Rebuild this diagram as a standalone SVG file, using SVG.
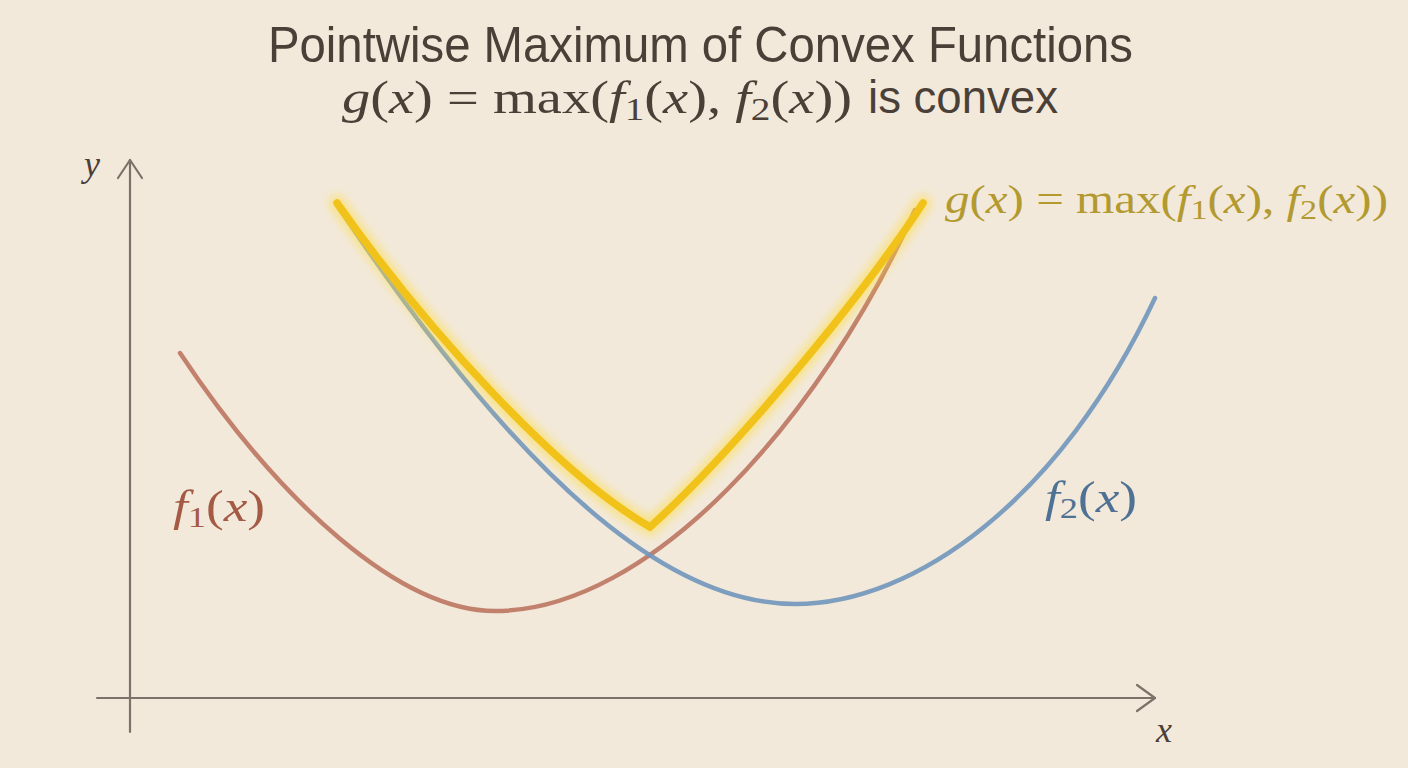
<svg xmlns="http://www.w3.org/2000/svg" width="1408" height="768" viewBox="0 0 1408 768">
<defs>
<style>
.bg{fill:#f2e9da}
.axis{fill:none;stroke:#7d726a;stroke-width:2.2;stroke-linecap:round;stroke-linejoin:round}
.f1{fill:none;stroke:#bb7661;stroke-width:4.5;stroke-linecap:round;opacity:0.9}
.f2{fill:none;stroke:#7196bb;stroke-width:4.5;stroke-linecap:round;opacity:0.9}
.g{fill:none;stroke:#f1c21a;stroke-width:7.5;stroke-linecap:round;stroke-linejoin:miter}
.glow{fill:none;stroke:#ffdc3a;stroke-width:16;stroke-linecap:round;opacity:0.55}
.title{font-family:"Liberation Sans","DejaVu Sans",sans-serif;fill:#4a4038}
.math{font-family:"Liberation Serif","DejaVu Serif",serif}
.it{font-style:italic}
</style>
<filter id="blur" x="-20%" y="-20%" width="140%" height="140%"><feGaussianBlur stdDeviation="5"/></filter>
</defs>
<rect class="bg" x="0" y="0" width="1408" height="768"/>

<g id="title">
<text class="title" x="268" y="62" font-size="50" textLength="865" lengthAdjust="spacingAndGlyphs">Pointwise Maximum of Convex Functions</text>
<text class="math" x="342" y="113" font-size="46" fill="#4a4038" textLength="510" lengthAdjust="spacingAndGlyphs"><tspan class="it">g</tspan>(<tspan class="it">x</tspan>) = max(<tspan class="it">f</tspan><tspan font-size="32" dy="7">1</tspan><tspan dy="-7">(</tspan><tspan class="it">x</tspan>), <tspan class="it">f</tspan><tspan font-size="32" dy="7">2</tspan><tspan dy="-7">(</tspan><tspan class="it">x</tspan>))</text>
<text class="title" x="868" y="113" font-size="46" textLength="190" lengthAdjust="spacingAndGlyphs">is convex</text>
</g>

<g id="axes">
<path class="axis" d="M130,732 L130,160"/>
<path class="axis" d="M118,178 L130,160 L142,178"/>
<path class="axis" d="M97,698 L1155,698"/>
<path class="axis" d="M1137,685 L1155,698 L1137,711"/>
<text class="math it" x="84" y="176" font-size="36" fill="#4a4038">y</text>
<text class="math it" x="1156" y="742" font-size="36" fill="#4a4038">x</text>
</g>

<g id="connectors">
<g id="f1-curve"><path class="f1" d="M180,353 C280,503 400,611 495,611 C650,611 820,420 915,210"/></g>
<g id="f2-curve"><path class="f2" d="M337,205 C537,505 680,604 795,604 C915,604 1060,500 1155,298"/></g>
<g id="g-curve">
<path class="glow" filter="url(#blur)" d="M337,203 C430,335 560,475 650,527 C730,455 860,300 923,203"/>
<path class="g" d="M337,203 C430,335 560,475 650,527 C730,455 860,300 923,203"/>
</g>
</g>

<g id="label-f1">
<text class="math" x="173" y="521" font-size="44" fill="#a45a45" textLength="92" lengthAdjust="spacingAndGlyphs"><tspan class="it">f</tspan><tspan font-size="30" dy="6">1</tspan><tspan dy="-6">(</tspan><tspan class="it">x</tspan>)</text>
</g>
<g id="label-f2">
<text class="math" x="1045" y="512" font-size="44" fill="#4f7194" textLength="92" lengthAdjust="spacingAndGlyphs"><tspan class="it">f</tspan><tspan font-size="30" dy="6">2</tspan><tspan dy="-6">(</tspan><tspan class="it">x</tspan>)</text>
</g>
<g id="label-g">
<text class="math" x="945" y="213" font-size="40" fill="#b39a30" textLength="443" lengthAdjust="spacingAndGlyphs"><tspan class="it">g</tspan>(<tspan class="it">x</tspan>) = max(<tspan class="it">f</tspan><tspan font-size="28" dy="6">1</tspan><tspan dy="-6">(</tspan><tspan class="it">x</tspan>), <tspan class="it">f</tspan><tspan font-size="28" dy="6">2</tspan><tspan dy="-6">(</tspan><tspan class="it">x</tspan>))</text>
</g>
</svg>
